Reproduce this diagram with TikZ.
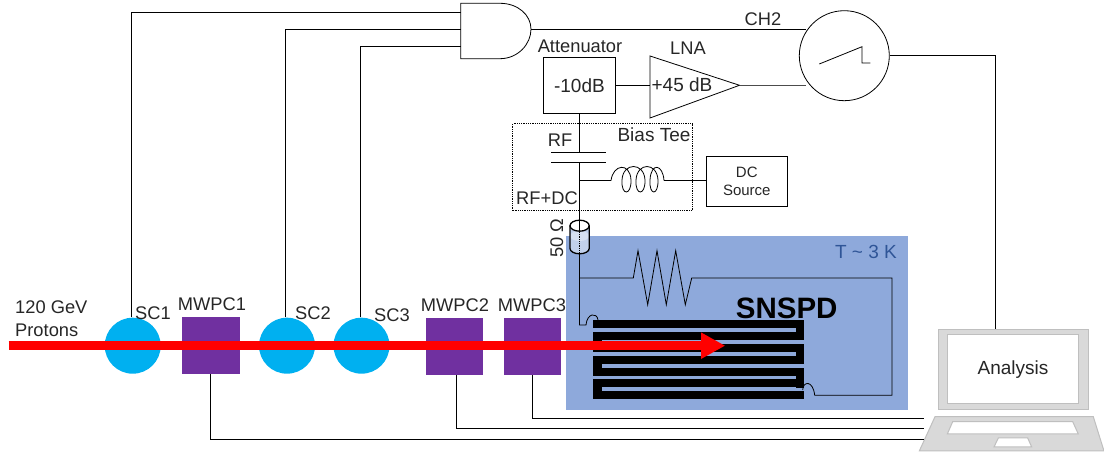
\documentclass[tikz,border=0pt]{standalone}
\usepackage{fontspec}
\setmainfont{Liberation Sans}
\usetikzlibrary{arrows.meta}
\definecolor{scblue}{HTML}{00B0F0}
\definecolor{mwpcpurple}{HTML}{7030A0}
\definecolor{coldblue}{HTML}{8EA9DB}
\definecolor{labelblue}{HTML}{2F5597}
\definecolor{laptopgray}{HTML}{D9D9D9}
\definecolor{laptopline}{HTML}{BFBFBF}
\tikzstyle{block} = [rectangle, inner sep=0pt, align=center, draw=black, line width=0.8pt]
\tikzstyle{wire} = [line width=0.8pt, black]
\tikzstyle{scint} = [circle, inner sep=0pt, minimum size=56pt, fill=scblue]
\tikzstyle{mwpc} = [rectangle, inner sep=0pt, minimum width=57.5pt, minimum height=57pt, fill=mwpcpurple]
\tikzstyle{lab} = [inner sep=0pt, font=\fontsize{18.3}{23}\selectfont, text=black!85]
\tikzstyle{beam} = [line width=8.7pt, red, -{Triangle[length=24.3pt,width=24.7pt]}]
\tikzstyle{laptop} = [fill=laptopgray, draw=laptopline, line width=1pt]
\begin{document}
\begin{tikzpicture}[x=1pt, y=-1pt]
        \useasboundingbox (0,0) rectangle (1104,454);
        % cold stage
        \node (cold) [rectangle, inner sep=0pt, minimum width=342pt, minimum height=174pt, fill=coldblue] at (737,323) {};
        \node (temp) [lab, text=labelblue, font=\fontsize{19}{23}\selectfont] at (866,252) {T \textasciitilde{} 3 K};
        % readout chain
        \node (atten) [block, minimum width=72.7pt, minimum height=56pt, font=\fontsize{19}{23}\selectfont, text=black!85] at (579.4,85.3) {-10dB};
        \node (attenlab) [lab] at (580,46) {Attenuator};
        \coordinate (lnain) at (650,85.3);
        \coordinate (lnatip) at (739.5,85.3);
        \draw [wire] (650,56) -- (lnatip) -- (650,118) -- cycle;
        \node (lnalab) [lab] at (688,48) {LNA};
        \node (gain) [lab, font=\fontsize{19}{23}\selectfont] at (682,85) {+45 dB};
        \node (scope) [circle, draw=black, line width=0.8pt, inner sep=0pt, minimum size=90pt] at (844.3,55.7) {};
        \node (ch2) [lab] at (763,19) {CH2};
        \coordinate (scopein) at (806,85.3);
        \coordinate (scopetrig) at (806,29.2);
        \draw [wire] (819.3,64) -- (862,46.7) -- (862,63) -- (870.3,63);
        \draw [wire] (atten.east |- lnain) -- (lnain);
        \draw [wire, black!70] (lnatip) -- (scopein);
        % coincidence gate
        \coordinate (gatein1) at (460.7,12);
        \coordinate (gatein2) at (460.7,29.2);
        \coordinate (gatein3) at (460.7,46);
        \coordinate (gateout) at (531,29.2);
        \draw [wire, fill=white] (460.7,3.3) -- (500,3.3) .. controls (518,3.3) and (531,15) .. (gateout) .. controls (531,44) and (518,58.7) .. (500,58.7) -- (460.7,58.7) -- cycle;
        \draw [wire] (gateout) -- (scopetrig);
        % bias tee
        \node (tee) [rectangle, draw=black, densely dotted, line width=0.8pt, inner sep=0pt, minimum width=179.6pt, minimum height=87pt] at (602.5,167.2) {};
        \node (rflab) [lab] at (560,140) {RF};
        \node (teelab) [lab, font=\fontsize{19}{23}\selectfont] at (654,135) {Bias Tee};
        \node (rfdclab) [lab] at (547,198) {RF+DC};
        \node (dc) [block, minimum width=81.7pt, minimum height=49.3pt, font=\fontsize{15}{18}\selectfont, text=black!85] at (746.8,181.3) {DC\\Source};
        \coordinate (capt) at (579.5,152.3);
        \coordinate (capb) at (579.5,162.8);
        \coordinate (tap) at (579.5,180.7);
        \coordinate (coilin) at (611,180.7);
        \coordinate (coilout) at (664,180.7);
        \draw [wire] (atten.south -| capt) -- (capt);
        \draw [wire] (551,152.3) -- (606,152.3);
        \draw [wire] (551,162.8) -- (606,162.8);
        \draw [wire] (capb) -- (tap) -- (coilin);
        \draw [wire] (coilin) .. controls (613,164) and (630,162) .. (631,180) .. controls (631.5,196) and (621,196) .. (622,180) .. controls (623,162) and (644,162) .. (645,180) .. controls (645.5,196) and (635,196) .. (636,180) .. controls (637,162) and (657,162) .. (658,180) .. controls (658.5,196) and (649,196) .. (650,180) .. controls (651,162) and (663,164) .. (coilout);
        \draw [wire] (coilout) -- (dc.west |- coilout);
        % termination
        \coordinate (cyltop) at (579.6,225.7);
        \coordinate (cylbot) at (579.5,232);
        \coordinate (wiredown) at (579.5,254);
        \coordinate (wirejoin) at (579.5,278);
        \fill [color=coldblue!55!white] (570,227) -- (570,248.5) arc[start angle=180, end angle=360, x radius=9.6pt, y radius=5.3pt] -- (589.2,227) -- cycle;
        \fill [color=white, opacity=0.35] (579.6,236) ellipse [x radius=9.6pt, y radius=5pt];
        \draw [line width=1.3pt, fill=white] (cyltop) ellipse [x radius=9.6pt, y radius=5.5pt];
        \draw [line width=1.3pt] (570,225.7) -- (570,248.5) arc[start angle=180, end angle=360, x radius=9.6pt, y radius=5.3pt] -- (589.2,225.7);
        \draw [wire] (tap) -- (cylbot);
        \draw [wire, densely dotted] (cylbot) -- (wiredown);
        \node (ohm) [lab, rotate=90] at (556.7,238) {50 Ω};
        % load resistor and return path
        \draw [wire] (wiredown) -- (wirejoin) -- (633.3,278) -- (638,250.7) -- (647.7,304.7) -- (657,250.7) -- (666.3,304.7) -- (675.7,250.7) -- (685.3,304.7) -- (691.7,278) -- (892,278) -- (892,395.3) -- (814.7,395.3) .. controls (813,380) and (803,381) .. (802.7,390);
        \draw [wire] (wirejoin) -- (579.5,325) -- (586,325) .. controls (587,313) and (597,312) .. (598,320);
        % meander
        \foreach \row in {0,...,6} \fill [black] (593.3,320+11.9*\row) rectangle (804.2,328+11.9*\row);
        \foreach \row in {0,2,4} \fill [black] (796,320+11.9*\row) rectangle (804.2,340+11.9*\row);
        \foreach \row in {1,3,5} \fill [black] (593.3,320+11.9*\row) rectangle (602,340+11.9*\row);
        \node (snspd) [inner sep=0pt, font=\fontsize{29.5}{32}\selectfont\bfseries] at (786.7,308) {SNSPD};
        % beam line detectors
        \node (sc1) [scint] at (132.7,345.7) {};
        \node (sc2) [scint] at (287,345.7) {};
        \node (sc3) [scint] at (361.5,345.7) {};
        \node (mwpc1) [mwpc] at (210.8,345.7) {};
        \node (mwpc2) [mwpc] at (454.7,346.5) {};
        \node (mwpc3) [mwpc] at (532.7,346.5) {};
        \node (sc1lab) [lab] at (153,313) {SC1};
        \node (sc2lab) [lab] at (313,313) {SC2};
        \node (sc3lab) [lab] at (392,315) {SC3};
        \node (mwpc1lab) [lab] at (212,304) {MWPC1};
        \node (mwpc2lab) [lab] at (455,305) {MWPC2};
        \node (mwpc3lab) [lab] at (532,305) {MWPC3};
        \node (protons) [lab, align=left, anchor=west] at (15,318.5) {120 GeV\\Protons};
        % trigger lines
        \draw [wire] ([xshift=-1.7pt]sc1.north) |- (gatein1);
        \draw [wire] ([xshift=-1.7pt]sc2.north) |- (gatein2);
        \draw [wire] ([xshift=-1.5pt]sc3.north) |- (gatein3);
        % laptop
        \node (screen) [rectangle, laptop, inner sep=0pt, minimum width=150.4pt, minimum height=80pt] at (1013.5,369.3) {};
        \node (analysis) [rectangle, draw=laptopline, fill=white, line width=1pt, inner sep=0pt, minimum width=130.6pt, minimum height=69pt, font=\fontsize{19}{23}\selectfont, text=black!85] at (1013,369.5) {Analysis};
        \draw [laptop] (935,416.7) -- (1093.3,416.7) -- (1104,451) -- (919.3,451) -- cycle;
        \draw [laptop, fill=white] (952.7,421.7) -- (1072.7,421.7) -- (1078.3,434) -- (947.3,434) -- cycle;
        \draw [laptop, fill=white] (998.3,438) -- (1027.7,438) -- (1031.7,447) -- (994,447) -- cycle;
        \coordinate (port1) at (924,418.3);
        \coordinate (port2) at (924,428.8);
        \coordinate (port3) at (924,439.3);
        \coordinate (screenin) at (995,329.3);
        % readout lines
        \draw [wire] (scope.east) -| (screenin);
        \draw [wire] ([xshift=-0.8pt]mwpc1.south) |- (port3);
        \draw [wire] ([xshift=1.3pt]mwpc2.south) |- (port2);
        \draw [wire] (mwpc3.south) |- (port1);
        % proton beam
        \coordinate (beamstart) at (8.5,345.7);
        \coordinate (beamend) at (725.3,345.7);
        \draw [beam] (beamstart) -- (beamend);
    \end{tikzpicture}
\end{document}
